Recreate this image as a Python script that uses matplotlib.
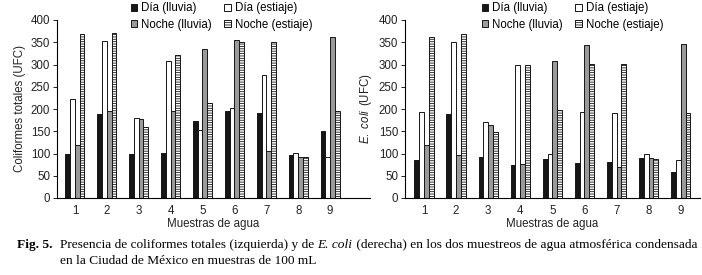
import matplotlib
matplotlib.use("Agg")
import matplotlib.pyplot as plt
import numpy as np

plt.rcParams['font.family'] = ['Liberation Sans', 'DejaVu Sans']
plt.rcParams['hatch.linewidth'] = 0.6
plt.rcParams['mathtext.fontset'] = 'custom'
plt.rcParams['mathtext.it'] = 'Liberation Sans:italic'
plt.rcParams['mathtext.rm'] = 'Liberation Sans'

samples = [1, 2, 3, 4, 5, 6, 7, 8, 9]
series_names = ["Día (lluvia)", "Día (estiaje)", "Noche (lluvia)", "Noche (estiaje)"]

# Coliformes totales (UFC)
coli_dia_lluvia = [100, 188, 100, 102, 173, 196, 190, 96, 151]
coli_dia_estiaje = [222, 352, 180, 308, 153, 202, 277, 102, 93]
coli_noche_lluvia = [120, 196, 178, 196, 335, 355, 105, 92, 361]
coli_noche_estiaje = [368, 370, 160, 321, 213, 350, 350, 92, 195]

# E. coli (UFC)
ecoli_dia_lluvia = [86, 188, 92, 74, 88, 79, 81, 90, 59]
ecoli_dia_estiaje = [193, 350, 170, 300, 98, 194, 192, 98, 85]
ecoli_noche_lluvia = [118, 96, 165, 76, 308, 344, 70, 90, 346]
ecoli_noche_estiaje = [362, 368, 148, 300, 198, 302, 302, 88, 190]

styles = [
    dict(color='#161616', edgecolor='#161616'),
    dict(color='white', edgecolor='#161616'),
    dict(color='#9a9a9a', edgecolor='#161616'),
    dict(color='white', edgecolor='#161616', hatch='-------'),
]

W, H = 702, 275
fig = plt.figure(figsize=(W / 100, H / 100), dpi=100)

def px_axes(x0, x1, ytop, ybot):
    return [x0 / W, 1 - ybot / H, (x1 - x0) / W, (ybot - ytop) / H]

ax1 = fig.add_axes(px_axes(57, 370, 20, 198))
ax2 = fig.add_axes(px_axes(405, 700, 20, 198))

bw = 0.15
offsets = [-1.5 * bw, -0.5 * bw, 0.5 * bw, 1.5 * bw]
fs = 8.3
tc = '#222222'

def draw(ax, data, ylabel, xlim, legend_anchor):
    x = np.array(samples, dtype=float)
    handles = []
    for vals, st, off, name in zip(data, styles, offsets, series_names):
        b = ax.bar(x + off, vals, width=bw, linewidth=0.7, label=name, **st)
        handles.append(b)
    ax.set_ylim(0, 400)
    ax.set_xlim(*xlim)
    ax.set_yticks(range(0, 401, 50))
    ax.set_xticks(samples)
    ax.tick_params(axis='x', length=0, labelsize=fs, pad=5, colors=tc)
    ax.tick_params(axis='y', length=3, width=0.7, labelsize=fs, pad=2, colors=tc)
    for s in ['top', 'right']:
        ax.spines[s].set_visible(False)
    ax.spines['left'].set_linewidth(0.8)
    ax.spines['bottom'].set_linewidth(0.8)
    ax.set_xlabel("Muestras de agua", fontsize=fs, labelpad=1, color=tc)
    ax.set_ylabel(ylabel, fontsize=fs, labelpad=3, color=tc)
    order = [handles[0], handles[2], handles[1], handles[3]]
    labels = [series_names[0], series_names[2], series_names[1], series_names[3]]
    ax.legend(order, labels, ncol=2, loc='upper left', bbox_to_anchor=legend_anchor,
              frameon=False, fontsize=fs, handlelength=0.55, handleheight=0.55,
              handletextpad=0.35, columnspacing=1.1, labelspacing=0.4,
              borderaxespad=0, borderpad=0)

draw(ax1, [coli_dia_lluvia, coli_dia_estiaje, coli_noche_lluvia, coli_noche_estiaje],
     "Coliformes totales (UFC)", (0.44, 10.25), (0.235, 1.10))
draw(ax2, [ecoli_dia_lluvia, ecoli_dia_estiaje, ecoli_noche_lluvia, ecoli_noche_estiaje],
     r"$\mathit{E.\ coli}\,$ (UFC)", (0.41, 9.6), (0.26, 1.10))

# Caption
cap_size = 9.6
serif = ['Liberation Serif', 'DejaVu Serif']
fig.canvas.draw()
renderer = fig.canvas.get_renderer()

def seq(pieces, x_px, y_px):
    x = x_px
    for txt, kw in pieces:
        t = fig.text(x / W, 1 - y_px / H, txt, fontsize=cap_size, family=serif,
                     va='baseline', ha='left', **kw)
        fig.canvas.draw()
        x = t.get_window_extent(renderer).x1

fig.text(17 / W, 1 - 248 / H, "Fig. 5.", fontsize=cap_size, family=serif,
         weight='bold', va='baseline', ha='left')
seq([("Presencia de coliformes totales (izquierda) y de ", {}),
     ("E. coli", dict(style='italic')),
     (" (derecha) en los dos muestreos de agua atmosférica condensada", {})],
    60, 248)
seq([("en la Ciudad de México en muestras de 100 mL", {})], 60, 264)

fig.savefig("out.png", dpi=100)
